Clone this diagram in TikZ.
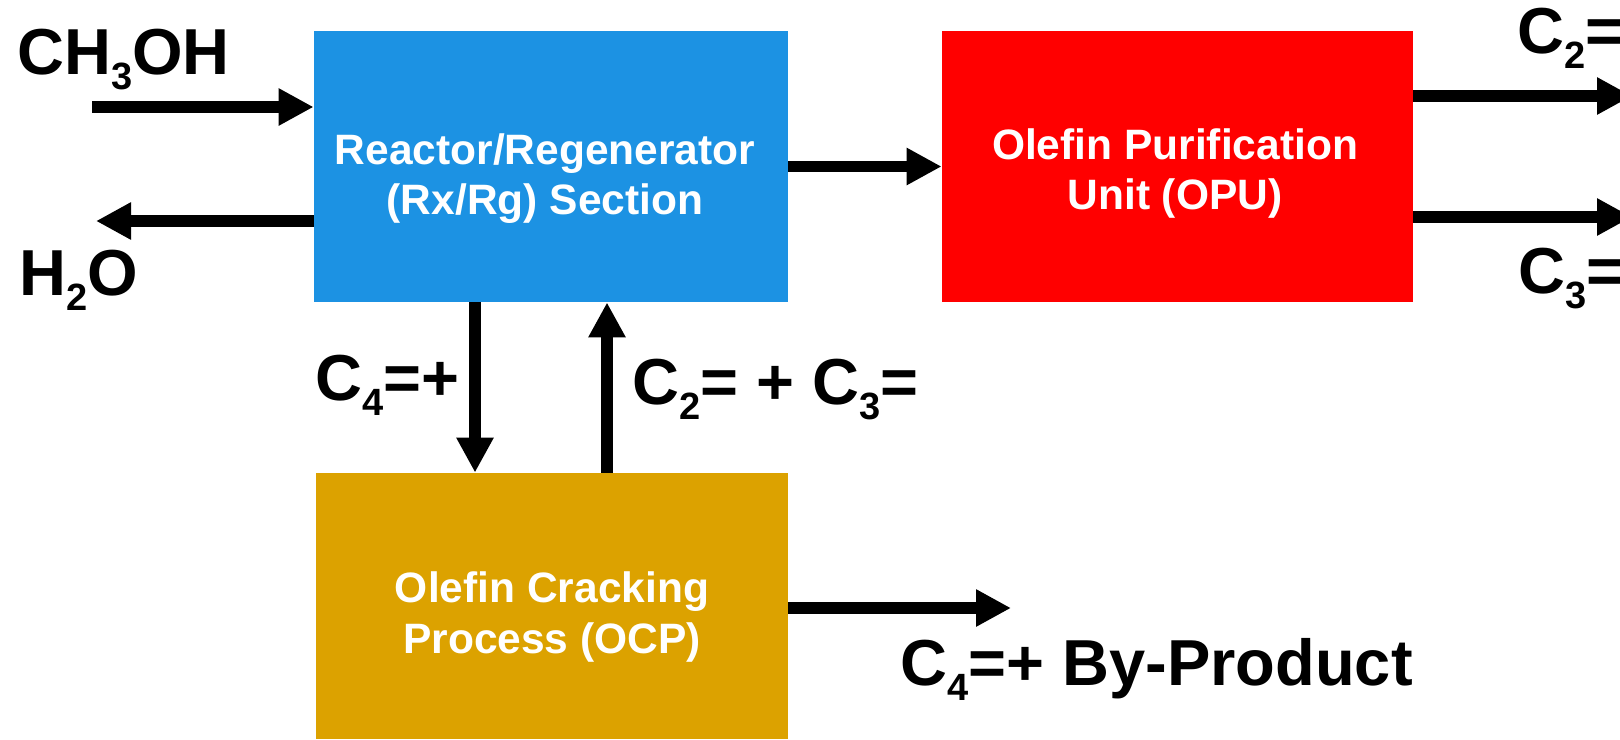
\documentclass[tikz,border=0pt]{standalone}
\usepackage{fontspec}
\setmainfont{Liberation Sans}
\usetikzlibrary{arrows.meta}
\definecolor{rxblue}{RGB}{28,146,227}
\definecolor{ocpgold}{RGB}{220,162,0}
\definecolor{opured}{RGB}{255,0,0}
\newcommand{\lsub}[1]{\raisebox{-7.5pt}{\fontsize{19}{19}\selectfont #1}}
\begin{document}
\begin{tikzpicture}[x=0.5pt,y=-0.5pt,
  unit/.style={draw=none, rectangle, inner sep=0pt},
  boxtext/.style={text=white, font=\fontsize{21.25}{25}\selectfont\bfseries, align=center, inner sep=0pt},
  biglabel/.style={font=\fontsize{32.5}{36}\selectfont\bfseries, inner sep=0pt, anchor=base west},
  flow/.style={line width=5.6pt, -{Triangle[length=17.5pt,width=17.5pt]}}]
\useasboundingbox (0,0) rectangle (1620,739);
% boxes
\node[unit, fill=rxblue, minimum width=237pt, minimum height=135.5pt] (rx) at (551,166.5) {};
\node[unit, fill=opured, minimum width=235.5pt, minimum height=135.5pt] (opu) at (1177.5,166.5) {};
\node[unit, fill=ocpgold, minimum width=236pt, minimum height=133pt] (ocp) at (552,606) {};
% box texts
\node[boxtext] (rxt) at (545,179) {Reactor/Regenerator\\(Rx/Rg) Section};
\node[boxtext] (oput) at (1175,174) {Olefin Purification\\Unit (OPU)};
\node[boxtext] (ocpt) at (552,617) {Olefin Cracking\\Process (OCP)};
% labels
\node[biglabel] (meoh) at (17,74) {CH\lsub{3}OH};
\node[biglabel] (water) at (19,295) {H\lsub{2}O};
\node[biglabel] (ethyl) at (1517,53) {C\lsub{2}=};
\node[biglabel] (propyl) at (1518,293) {C\lsub{3}=};
\node[biglabel] (c4lab) at (315,400) {C\lsub{4}=+};
\node[biglabel] (c23lab) at (632,404) {C\lsub{2}= + C\lsub{3}=};
\node[biglabel] (bylab) at (900,685) {C\lsub{4}=+ By-Product};
% free ends
\coordinate (feedin) at (92,107);
\coordinate (wout) at (96,221);
\coordinate (c2out) at (1632,96);
\coordinate (c3out) at (1632,217);
\coordinate (dnx) at (475,0);
\coordinate (upx) at (607,0);
\coordinate (byout) at (1011,608);
% connectors
\draw[flow] (feedin) -- (feedin -| rx.west);
\draw[flow] (wout -| rx.east) ++(0,0) (wout -| rx.west) -- (wout);
\draw[flow] (rx.east) -- (opu.west);
\draw[flow] (c2out -| opu.east) -- (c2out);
\draw[flow] (c3out -| opu.east) -- (c3out);
\draw[flow] (dnx |- rx.south) -- (dnx |- ocp.north);
\draw[flow] (upx |- ocp.north) -- (upx |- rx.south);
\draw[flow] (byout -| ocp.east) -- (byout);
\end{tikzpicture}
\end{document}
